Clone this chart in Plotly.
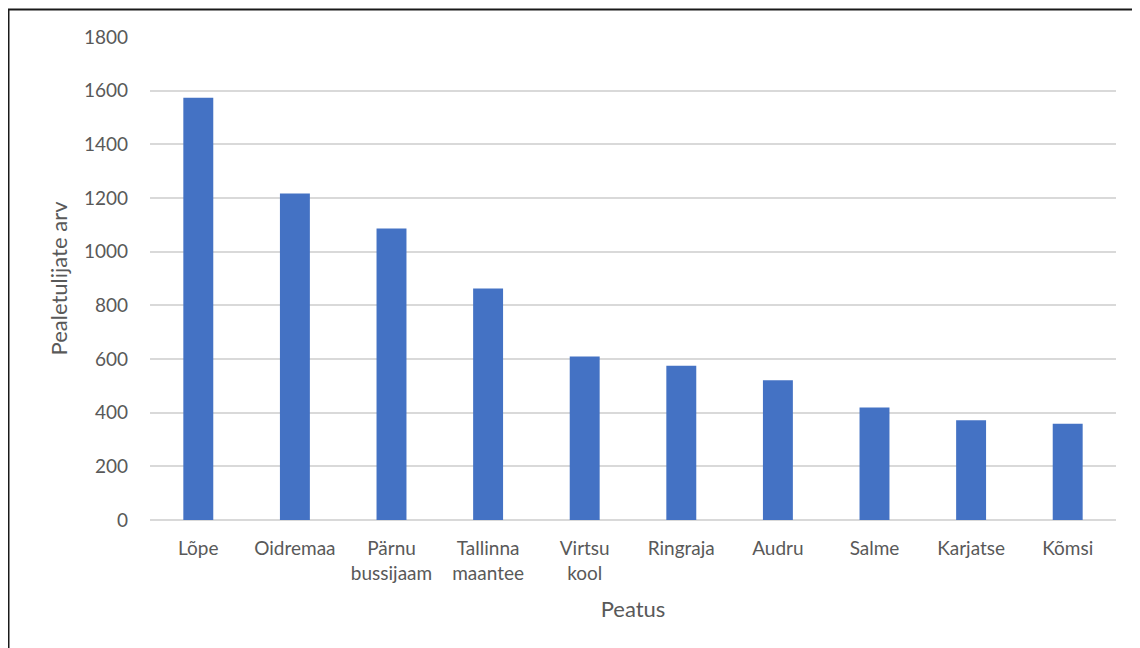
import plotly.graph_objects as go

categories = ["Lõpe", "Oidremaa", "Pärnu<br>bussijaam", "Tallinna<br>maantee", "Virtsu<br>kool",
              "Ringraja", "Audru", "Salme", "Karjatse", "Kõmsi"]
values = [1574, 1217, 1086, 863, 609, 575, 521, 419, 372, 359]
y_ticks = [0, 200, 400, 600, 800, 1000, 1200, 1400, 1600, 1800]

# page body has an 8px margin, so the figure starts at (8, 8)
OFF = 8
W, H = 1140 - OFF, 648 - OFF
L, R, T, B = 150 - OFF, 24, 37 - OFF, 128
pw, ph = W - L - R, H - T - B

def px_to_paper_x(px):
    return (px - OFF - L) / pw

def px_to_paper_y(py):
    return (H - B - (py - OFF)) / ph

font_family = "Lato, 'Open Sans', sans-serif"
text_color = "#595959"

fig = go.Figure(go.Bar(
    x=categories, y=values,
    marker=dict(color="#4472C4", line=dict(width=0)),
    width=0.31,
))

fig.update_layout(
    width=W, height=H,
    margin=dict(l=L, r=R, t=T, b=B, autoexpand=False),
    paper_bgcolor="white", plot_bgcolor="white",
    font=dict(family=font_family, size=19, color=text_color),
    showlegend=False,
    xaxis=dict(
        title=dict(text="Peatus", font=dict(size=22, color=text_color), standoff=18),
        showgrid=False, showline=False, zeroline=False,
        ticks="", ticklabelstandoff=15,
        tickfont=dict(size=19, color=text_color),
    ),
    yaxis=dict(
        title=dict(text="Pealetulijate arv", font=dict(size=22, color=text_color), standoff=10),
        range=[0, 1800], tickvals=y_ticks,
        showgrid=True, gridcolor="#d9d9d9", gridwidth=1.5,
        zeroline=True, zerolinecolor="#d9d9d9", zerolinewidth=1.5,
        showline=False, ticks="", ticklabelstandoff=21,
        tickfont=dict(size=19, color=text_color),
    ),
    shapes=[dict(
        type="rect", xref="paper", yref="paper",
        x0=px_to_paper_x(8.5), x1=px_to_paper_x(1300),
        y0=px_to_paper_y(800), y1=px_to_paper_y(9.5),
        line=dict(color="#1a1a1a", width=2), fillcolor="rgba(0,0,0,0)",
        layer="above",
    )],
)

fig.write_html("out.html")
